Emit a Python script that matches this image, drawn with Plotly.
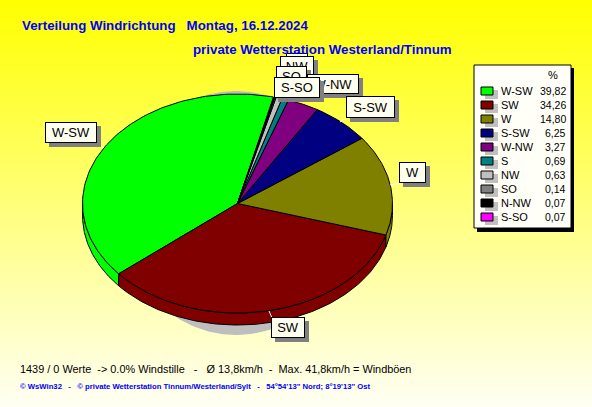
import numpy as np
import plotly.graph_objects as go

CATEGORIES = ["W-SW", "SW", "W", "S-SW", "W-NW", "S", "NW", "SO", "N-NW", "S-SO"]
VALUES = [39.82, 34.26, 14.80, 6.25, 3.27, 0.69, 0.63, 0.14, 0.07, 0.07]
VALUE_LABELS = ["39,82", "34,26", "14,80", "6,25", "3,27", "0,69", "0,63", "0,14", "0,07", "0,07"]
COLORS = ["#00FF00", "#800000", "#808000", "#000080", "#800080",
          "#008080", "#C0C0C0", "#808080", "#000000", "#FF00FF"]
TITLE_1 = "Verteilung Windrichtung   Montag, 16.12.2024"
TITLE_2 = "private Wetterstation Westerland/Tinnum"
STATS = "1439 / 0 Werte  -> 0.0% Windstille   -   Ø 13,8km/h  -  Max. 41,8km/h = Windböen"
FOOTER = "© WsWin32   -   © private Wetterstation Tinnum/Westerland/Sylt   -   54°54'13\" Nord; 8°19'13\" Ost"

W, H = 592, 407
CX, CY, RX, RY, DEPTH, START = 237.5, 203.5, 155, 109.5, 12, 76.6
FONT = "Liberation Sans"

fig = go.Figure()

# page gradient
rows = np.arange(0, H + 1)
fig.add_trace(go.Heatmap(x=[0, W], y=rows, z=np.column_stack([rows, rows]), zmin=0, zmax=H,
                         colorscale=[[0, "#FFFF00"], [1, "#FFFFF4"]], showscale=False,
                         hoverinfo="skip", zsmooth="best"))


def add_poly(xs, ys, fill, line="#000000", width=1):
    fig.add_trace(go.Scatter(x=xs, y=ys, mode="lines", fill="toself", fillcolor=fill,
                             line=dict(color=line, width=width), hoverinfo="skip"))


# shadow
t = np.radians(np.linspace(0, 360, 240))
add_poly(236 + 115 * np.cos(t), 213 + 122 * np.sin(t), "#BEBEBE", "#BEBEBE", 0)

# slice angles
angles = START + np.concatenate([[0], np.cumsum(VALUES)]) * 360 / sum(VALUES)

# side wall: visible lower half of the ellipse
for i, color in enumerate(COLORS):
    lo, hi = max(angles[i], 180), min(angles[i + 1], 360)
    if hi > lo:
        th = np.radians(np.linspace(lo, hi, 100))
        x = CX + RX * np.cos(th)
        y = CY - RY * np.sin(th)
        add_poly(np.r_[x, x[::-1], x[0]], np.r_[y, y[::-1] + DEPTH, y[0]], color)

# top faces
for i, color in enumerate(COLORS):
    th = np.radians(np.linspace(angles[i], angles[i + 1], 120))
    x = np.r_[CX, CX + RX * np.cos(th), CX]
    y = np.r_[CY, CY - RY * np.sin(th), CY]
    add_poly(x, y, color)

shapes = []
annotations = []


def text(x, y, s, size=11, color="#000000", anchor="left", bold=False, family=FONT):
    annotations.append(dict(x=x, y=y, xref="x", yref="y", text=f"<b>{s}</b>" if bold else s,
                            showarrow=False, xanchor=anchor, yanchor="middle",
                            borderpad=0, borderwidth=0,
                            font=dict(family=family, size=size, color=color)))


def box(x0, y0, x1, y1, fill, s="", border=None):
    annotations.append(dict(x=(x0 + x1) / 2, y=(y0 + y1) / 2, xref="x", yref="y", text=s or " ",
                            showarrow=False, width=x1 - x0, height=y1 - y0,
                            bgcolor=fill, bordercolor=border or fill, borderwidth=1, borderpad=0,
                            align="center", valign="middle",
                            font=dict(family=FONT, size=13, color="#000000")))


def label(x0, y0, x1, y1, s):
    box(x0 + 4, y0 + 4, x1 + 4, y1 + 4, "#808080")
    box(x0, y0, x1, y1, "#FFFFF0", s, "#000000")


# white leader lines
for x0, y0, x1, y1 in [(96, 142, 104, 148), (390, 185, 400, 183), (340, 122, 347, 117), (269, 311, 272, 318)]:
    shapes.append(dict(type="line", x0=x0, y0=y0, x1=x1, y1=y1, xref="x", yref="y",
                       line=dict(color="#FFFFFF", width=1)))

# labels, back to front
LABEL_BOXES = {
    "N-NW": (287, 54, 307, 70), "NW": (281, 57, 313, 76), "SO": (277, 67, 306, 85),
    "W-NW": (308, 75, 358, 93), "S-SO": (275, 78, 319, 97), "S-SW": (347, 97, 394, 117),
    "W": (400, 163, 425, 182), "W-SW": (46, 123, 96, 142), "SW": (272, 318, 304, 337),
}
for name in ["N-NW", "NW", "SO", "W-NW", "S-SO", "S-SW", "W", "W-SW", "SW"]:
    label(*LABEL_BOXES[name], name)

# legend
shapes.append(dict(type="rect", x0=477, y0=68, x1=574, y1=232, xref="x", yref="y",
                   fillcolor="#000000", line=dict(width=0)))
shapes.append(dict(type="rect", x0=474, y0=65, x1=571, y1=228, xref="x", yref="y",
                   fillcolor="#FFFFF8", line=dict(color="#000000", width=1)))
text(553, 75, "%", anchor="center")
for i, name in enumerate(CATEGORIES):
    yc = 91 + 14 * i
    shapes.append(dict(type="rect", x0=485, y0=yc - 1, x1=498, y1=yc + 8, xref="x", yref="y",
                       fillcolor="#C0C0C0", line=dict(width=0)))
    shapes.append(dict(type="rect", x0=481, y0=yc - 4, x1=493, y1=yc + 4, xref="x", yref="y",
                       fillcolor=COLORS[i], line=dict(color="#000000", width=1)))
    text(501, yc, name, size=11)
    text(566, yc, VALUE_LABELS[i], size=10.5, anchor="right")

# titles and footer
text(22, 25, TITLE_1, size=13.3, color="#0000FF", bold=True)
text(193, 49, TITLE_2, size=13.3, color="#0000FF", bold=True)
text(20, 369, STATS, size=10.9)
text(20, 386, FOOTER, size=7.7, color="#0000FF", bold=True)

fig.update_layout(width=W, height=H, margin=dict(l=0, r=0, t=0, b=0), showlegend=False,
                  paper_bgcolor="#FFFFFF", plot_bgcolor="#FFFFFF", shapes=shapes, annotations=annotations,
                  xaxis=dict(range=[0, W], visible=False, fixedrange=True),
                  yaxis=dict(range=[H, 0], visible=False, fixedrange=True))
fig.write_html("out.html", config=dict(displayModeBar=False),
               post_script="document.body.style.margin='0';")
